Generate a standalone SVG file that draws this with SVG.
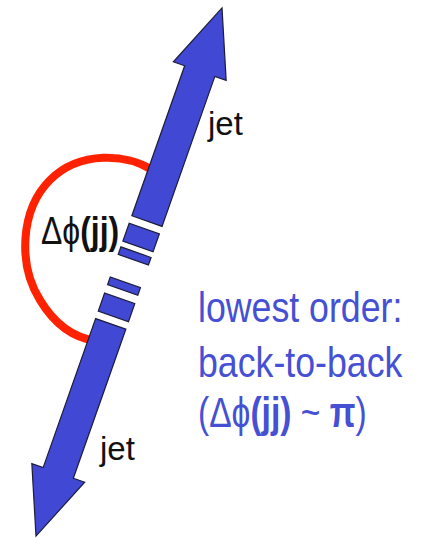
<svg xmlns="http://www.w3.org/2000/svg" width="423" height="538" viewBox="0 0 423 538">
  <style>
    .shaft { fill: #4048D4; stroke: #1c1c3a; stroke-width: 1.2; stroke-linejoin: miter; }
    .arc { fill: none; stroke: #FF2200; stroke-width: 8; }
    .lbl { font-family: "Liberation Sans", Arial, sans-serif; fill: #111111; }
    .blue { font-family: "Liberation Sans", Arial, sans-serif; fill: #4650D4; font-size: 42px; }
    .b { font-weight: bold; }
  </style>
  <rect width="423" height="538" fill="#ffffff"/>
  <g id="angle-arc">
    <path class="arc" d="M152,170 C128,154 80,150 50,180 C20,210 18,265 40,300 C55,325 75,338 96,341"/>
  </g>
  <g id="jet-axis" transform="translate(129,272) rotate(19.4)">
    <polygon class="shaft" points="0,-280 28,-213 16,-213 16,-54 -16,-54 -16,-213 -28,-213"/>
    <rect class="shaft" x="-16" y="-46" width="32" height="19"/>
    <rect class="shaft" x="-16" y="-21" width="32" height="8"/>
    <rect class="shaft" x="-16" y="11" width="32" height="8"/>
    <rect class="shaft" x="-16" y="28" width="32" height="19"/>
    <polygon class="shaft" points="16,55 16,213 28,213 0,280 -28,213 -16,213 -16,55"/>
  </g>
  <g id="label-jet-top">
    <text class="lbl" x="208" y="135" font-size="33">jet</text>
  </g>
  <g id="label-jet-bottom">
    <text class="lbl" x="100" y="460" font-size="33">jet</text>
  </g>
  <g id="label-dphi" transform="translate(41,244) scale(0.84,1)">
    <text class="lbl" x="0" y="0" font-size="38">Δϕ<tspan class="b">(jj)</tspan></text>
  </g>
  <g id="note">
    <text class="blue" transform="translate(198,322) scale(0.85,1)" x="0" y="0">lowest order:</text>
    <text class="blue" transform="translate(198,377) scale(0.85,1)" x="0" y="0">back-to-back</text>
    <text class="blue" transform="translate(198,427) scale(0.8,1)" x="0" y="0">(Δϕ<tspan class="b">(jj)</tspan> ~ <tspan class="b">π</tspan>)</text>
  </g>
</svg>
